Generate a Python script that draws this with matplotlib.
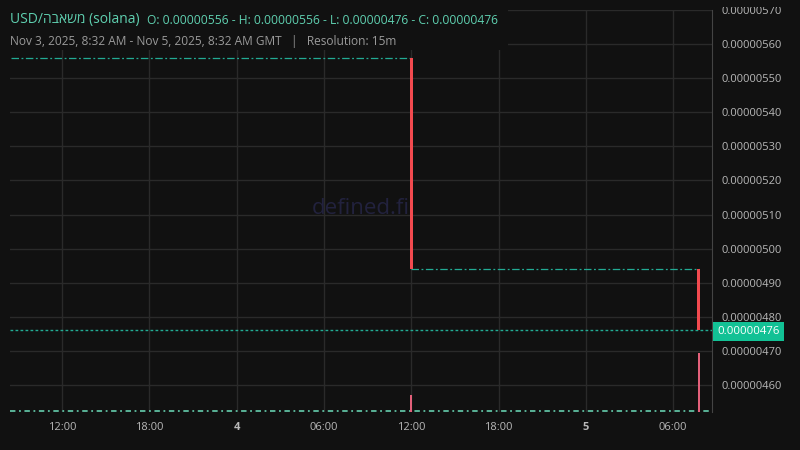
import matplotlib
matplotlib.use("Agg")
import matplotlib.pyplot as plt
import pandas as pd
from matplotlib.patches import Rectangle

plt.rcParams['font.family'] = ['Open Sans', 'DejaVu Sans']

# data
token_name = "משאבה"
range_start = pd.Timestamp("2025-11-03 08:32")
range_end = pd.Timestamp("2025-11-05 08:32")

# flat stretches (open == close) drawn as dash-dot lines
flat_starts = [pd.Timestamp("2025-11-03 08:32"), pd.Timestamp("2025-11-04 12:00")]
flat_ends = [pd.Timestamp("2025-11-04 12:00"), pd.Timestamp("2025-11-05 07:45")]
flat_prices = [5.56e-6, 4.94e-6]

# down candles
candle_times = [pd.Timestamp("2025-11-04 12:00"), pd.Timestamp("2025-11-05 07:45")]
candle_open = [5.56e-6, 4.94e-6]
candle_close = [4.94e-6, 4.76e-6]
volumes = [29, 100]

last_price = 4.76e-6
ohlc = {"O": "0.00000556", "H": "0.00000556", "L": "0.00000476", "C": "0.00000476"}
yticks = [4.6e-6, 4.7e-6, 4.8e-6, 4.9e-6, 5.0e-6, 5.1e-6, 5.2e-6, 5.3e-6, 5.4e-6, 5.5e-6, 5.6e-6, 5.7e-6]
xticks = pd.to_datetime(["2025-11-03 12:00", "2025-11-03 18:00", "2025-11-04 00:00", "2025-11-04 06:00",
                         "2025-11-04 12:00", "2025-11-04 18:00", "2025-11-05 00:00", "2025-11-05 06:00"])
xtick_labels = ["12:00", "18:00", "4", "06:00", "12:00", "18:00", "5", "06:00"]

bg = '#111111'
grid_c = '#2a2a2a'
teal = '#22ab94'
red = '#f24a4f'
text_c = '#b8b8b8'

fig = plt.figure(figsize=(8, 4.5), dpi=100, facecolor=bg)
ax = fig.add_axes([10 / 800, 38 / 450, 702 / 800, 402 / 450])
ax.set_facecolor(bg)

ax.set_xlim(range_start - pd.Timedelta(minutes=6), range_end + pd.Timedelta(minutes=8))
ax.set_ylim(4.5208e-6, 5.6997e-6)

# volume pane overlay
axv = ax.twinx()
axv.set_ylim(-0.6, 100 * 402 / 59)
axv.axis('off')
axv.bar(candle_times, volumes, width=pd.Timedelta(minutes=9), color='#e3607a', zorder=2)
axv.axhline(0.3, color='#5fc0a2', lw=1.3, linestyle=(0, (3, 2, 1, 2)), zorder=1)

# grid
for t in xticks:
    ax.axvline(t, color=grid_c, lw=1, zorder=0)
for v in yticks:
    ax.axhline(v, color=grid_c, lw=1, zorder=0)

# watermark
ax.text(0.5, 0.505, "defined.fi", transform=ax.transAxes, ha='center', va='center',
        fontsize=16, color='#22223e', zorder=0.5)

# price line
ax.axhline(last_price, color=teal, lw=1, linestyle=(0, (2, 1.6)), zorder=1)

# flat candles
for s, e, p in zip(flat_starts, flat_ends, flat_prices):
    ax.plot([s, e], [p, p], color=teal, lw=0.9, linestyle=(0, (6, 2, 1.5, 2)), zorder=2)

# real candles
for t, o, c in zip(candle_times, candle_open, candle_close):
    ax.bar(t, o - c, bottom=c, width=pd.Timedelta(minutes=12), color=red, zorder=3)

ax.set_xticks(xticks)
ax.set_xticklabels(xtick_labels)
for lbl, txt in zip(ax.get_xticklabels(), xtick_labels):
    if len(txt) == 1:
        lbl.set_fontweight('bold')
ax.set_yticks(yticks)
ax.set_yticklabels([f"{v:.8f}" for v in yticks])
ax.yaxis.tick_right()
ax.tick_params(axis='both', length=0, labelsize=8, colors=text_c)
ax.tick_params(axis='y', pad=7)
ax.tick_params(axis='x', pad=7)
for sp in ['top', 'left', 'bottom']:
    ax.spines[sp].set_visible(False)
ax.spines['right'].set_color('#444444')

# last price tag
ax.annotate(f"{last_price:.8f}", xy=(1, last_price), xycoords=('axes fraction', 'data'),
            xytext=(4, -0.8), textcoords='offset points', ha='left', va='center',
            fontsize=8.2, color='white',
            bbox=dict(boxstyle='square,pad=0.38', fc='#12c195', ec='none'), zorder=5)

# clip the top axis label like the reference
fig.patches.append(Rectangle((713 / 800, 1 - 7 / 450), 87 / 800, 7 / 450, transform=fig.transFigure,
                             facecolor=bg, edgecolor='none', zorder=3))

# header
fig.patches.append(Rectangle((0, 1 - 50 / 450), 508 / 800, 50 / 450, transform=fig.transFigure,
                             facecolor=bg, edgecolor='none', zorder=3))
name_txt = fig.text(10 / 800, 1 - 20 / 450, f"USD/{token_name[::-1]} (solana)", fontsize=10,
                    color='#5fd0b0', va='center', ha='left', zorder=4)
fig.canvas.draw()
bb = name_txt.get_window_extent()
ohlc_txt = " - ".join(f"{k}: {v}" for k, v in ohlc.items())
fig.text((bb.x1 + 7) / 800, 1 - 20 / 450, ohlc_txt, fontsize=8.7, color='#5fd0b0',
         va='center', ha='left', zorder=4)
fig.text(10 / 800, 1 - 41 / 450,
         "Nov 3, 2025, 8:32 AM - Nov 5, 2025, 8:32 AM GMT   |   Resolution: 15m",
         fontsize=8.6, color='#9a9a9a', va='center', ha='left', zorder=4)

fig.savefig("out.png", facecolor=bg)
